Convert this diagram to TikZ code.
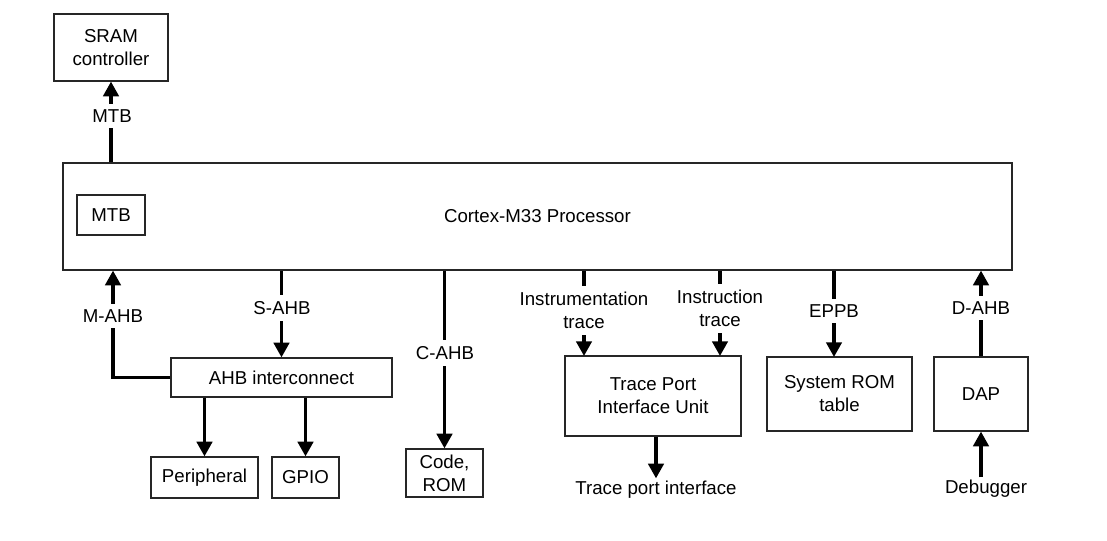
\documentclass[tikz,border=0pt]{standalone}
\usepackage{fontspec}
\setmainfont{Liberation Sans}
\usetikzlibrary{arrows.meta}
\begin{document}
\begin{tikzpicture}[x=0.75pt,y=-0.75pt,
  font=\fontsize{14}{17.2}\selectfont,
  box/.style={draw=black!85,line width=0.9pt,align=center,inner sep=2pt,fill=white},
  arr/.style={line width=2.5pt,-{Triangle[width=11.5pt,length=11pt]}},
  lbl/.style={fill=white,inner xsep=2pt,inner ysep=4.5pt,align=center},
  txt/.style={inner sep=2pt,align=center}]
\path[use as bounding box] (0,0) rectangle (1107,541);

% boxes
\node[box,minimum width=85.5pt,minimum height=50.25pt] (sram) at (111,47.5) {SRAM\\controller};
\node[box,minimum width=711.75pt,minimum height=80.25pt] (proc) at (537.5,216.5) {Cortex-M33 Processor};
\node[box,minimum width=51pt,minimum height=30pt] (mtb) at (111,215) {MTB};
\node[box,minimum width=165.75pt,minimum height=29.25pt] (ahb) at (281.5,377.5) {AHB interconnect};
\node[box,minimum width=80.25pt,minimum height=30.75pt] (periph) at (204.5,477.5) {Peripheral};
\node[box,minimum width=50.25pt,minimum height=30.75pt] (gpio) at (305.5,477.5) {GPIO};
\node[box,minimum width=57.75pt,minimum height=36pt] (code) at (444.5,473) {Code,\\ROM};
\node[box,minimum width=132pt,minimum height=60pt] (tpiu) at (653,396) {Trace Port\\Interface Unit};
\node[box,minimum width=108.75pt,minimum height=55.5pt] (sysrom) at (839.5,394) {System ROM\\table};
\node[box,minimum width=70.5pt,minimum height=55.5pt] (dap) at (981,394) {DAP};

\node[txt] (tpi) at (656,490) {Trace port interface};
\node[txt] (dbg) at (986,489) {Debugger};

% named anchor points
\coordinate (itin) at (584,356);
\coordinate (isin) at (720,356);
\coordinate (eppbin) at (834,357);
\coordinate (mahbx) at (113,377.5);

% connectors
\draw[arr] (proc.north -| sram.south) -- (sram.south);
\draw[arr] (ahb.west) -- (mahbx) -- (proc.south -| mahbx);
\draw[arr] (proc.south -| ahb.north) -- (ahb.north);
\draw[arr] (proc.south -| code.north) -- (code.north);
\draw[arr] (ahb.south -| periph.north) -- (periph.north);
\draw[arr] (ahb.south -| gpio.north) -- (gpio.north);
\draw[arr] (proc.south -| itin) -- (itin);
\draw[arr] (proc.south -| isin) -- (isin);
\draw[arr] (proc.south -| eppbin) -- (eppbin);
\draw[arr] (dap.north) -- (proc.south -| dap.north);
\draw[arr] (dbg.north -| dap.south) -- (dap.south);
\draw[arr] (tpiu.south -| tpi.north) -- (tpi.north);

% connector labels
\node[lbl] (lmtb) at (112,116) {MTB};
\node[lbl] (lmahb) at (113,316) {M-AHB};
\node[lbl] (lsahb) at (282,308) {S-AHB};
\node[lbl] (lcahb) at (445,353) {C-AHB};
\node[lbl] (linstr) at (584,310.5) {Instrumentation\\trace};
\node[lbl] (linst) at (720,308.5) {Instruction\\trace};
\node[lbl] (leppb) at (834,311) {EPPB};
\node[lbl] (ldahb) at (981,308) {D-AHB};
\end{tikzpicture}
\end{document}
